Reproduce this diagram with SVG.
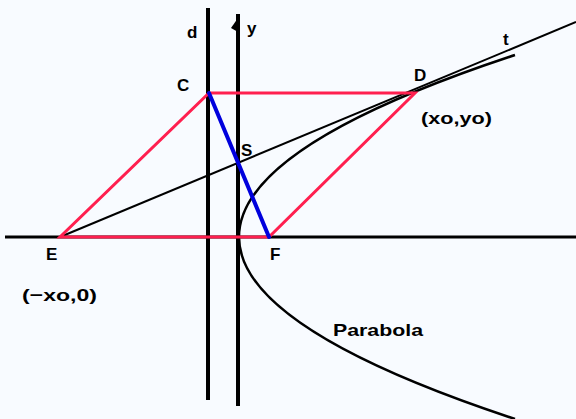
<svg xmlns="http://www.w3.org/2000/svg" width="576" height="419" viewBox="0 0 576 419">
<style>
.lbl{font-family:"Liberation Sans",Arial,sans-serif;font-weight:bold;font-size:17px;fill:#000}
.ax{stroke:#000;stroke-width:4;fill:none}
.red{stroke:#ff1f4f;stroke-width:3;fill:none;stroke-linecap:round}
.blue{stroke:#0000dd;stroke-width:4;fill:none;stroke-linecap:round}
.thin{stroke:#000;stroke-width:2;fill:none}
</style>
<rect width="576" height="419" fill="#f8fbff"/>
<g id="axes">
<line class="ax" x1="5" y1="237" x2="576" y2="237" style="stroke-width:3"/>
<line id="directrix" class="ax" x1="208" y1="8" x2="208" y2="400"/>
<line id="yaxis" class="ax" x1="238" y1="14" x2="238" y2="406"/>
<polygon points="238,18 231,28 238,32" fill="#000"/>
</g>
<g id="connectors">
<path id="parabola" class="thin" style="stroke-width:2.5" d="M515,55 Q-37,237 515,419"/>
<line id="tangent" class="thin" x1="60" y1="237" x2="576" y2="22"/>
<polygon id="parallelogram" class="red" points="209,93 415,93 269,237 60,237"/>
<line id="CF" class="blue" x1="209" y1="93" x2="269" y2="237"/>
</g>
<g id="labels">
<text class="lbl" x="187" y="38" font-size="19">d</text>
<text class="lbl" x="247" y="34" font-size="19">y</text>
<text class="lbl" x="177" y="91" font-size="18">C</text>
<text class="lbl" x="414" y="81" font-size="18">D</text>
<text class="lbl" x="503" y="45" font-size="18">t</text>
<text class="lbl" x="241" y="156" font-size="18">S</text>
<text class="lbl" x="270" y="260" font-size="18">F</text>
<text class="lbl" x="46" y="260" font-size="18">E</text>
<text class="lbl" x="22" y="301" textLength="75" lengthAdjust="spacingAndGlyphs">(−xo,0)</text>
<text class="lbl" x="421" y="124" textLength="71" lengthAdjust="spacingAndGlyphs">(xo,yo)</text>
<text class="lbl" x="333" y="336" textLength="90" lengthAdjust="spacingAndGlyphs">Parabola</text>
</g>
</svg>
